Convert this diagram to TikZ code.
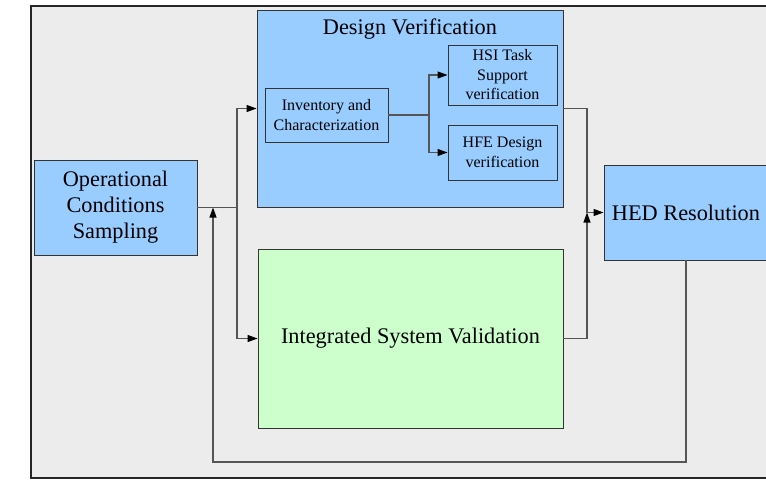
\documentclass[tikz,border=0pt]{standalone}
\usepackage{fontspec}
\setmainfont{Liberation Serif}
\usetikzlibrary{arrows.meta}
\definecolor{bgray}{HTML}{ECECEC}
\definecolor{bblue}{HTML}{99CCFF}
\definecolor{bgreen}{HTML}{CCFFCC}
\definecolor{lgray}{HTML}{555555}
\tikzset{
  box/.style={draw=black!80, line width=0.9pt, inner sep=0pt, align=center},
  bigtxt/.style={font=\fontsize{22.3}{26}\selectfont},
  smalltxt/.style={font=\fontsize{16}{19.5}\selectfont},
  conn/.style={draw=lgray, line width=1.1pt},
  arr/.style={conn, -{Triangle[length=10pt,width=7pt,fill=black,color=black]}},
}
\begin{document}
\begin{tikzpicture}[x=1pt,y=-1pt]
\useasboundingbox (0,0) rectangle (766,480);
\clip (0,0) rectangle (766,480);
\fill[white] (0,0) rectangle (766,480);
\draw[fill=bgray, draw=black!85, line width=1.8pt] (31,6) rectangle (790,478);

\node[box, fill=bblue, bigtxt, minimum width=163pt, minimum height=95pt] (ocs) at (115.5,207.5) {Operational\\Conditions\\Sampling};
\node[box, fill=bblue, minimum width=306pt, minimum height=197pt] (dv) at (410,108.5) {};
\node[bigtxt, inner sep=0pt] (dvt) at (410,29) {Design Verification};
\node[box, fill=bblue, smalltxt, minimum width=123pt, minimum height=54pt] (inv) at (326.5,115) {Inventory and\\Characterization};
\node[box, fill=bblue, smalltxt, minimum width=109pt, minimum height=60pt] (hsi) at (502.5,75) {HSI Task\\Support\\verification};
\node[box, fill=bblue, smalltxt, minimum width=109pt, minimum height=55pt] (hfe) at (502.5,152.5) {HFE Design\\verification};
\node[box, fill=bblue, bigtxt, minimum width=164pt, minimum height=95pt] (hed) at (686,212.5) {HED Resolution};
\node[box, fill=bgreen, bigtxt, minimum width=305pt, minimum height=179pt] (isv) at (410.5,338.5) {Integrated System Validation};

\coordinate (j1) at (237,207.5);
\coordinate (j2) at (429,115);
\coordinate (j3) at (587,212.5);
\coordinate (fb) at (213,207.5);
\coordinate (fbr) at (686,462);

\draw[conn] (ocs.east) -- (j1);
\draw[arr] (j1) |- (dv.west);
\draw[arr] (j1) |- (isv.west);
\draw[conn] (inv.east) -- (j2);
\draw[arr] (j2) |- (hsi.west);
\draw[arr] (j2) |- (hfe.west);
\draw[conn] (dv.east) -| (j3);
\draw[arr] (isv.east) -| (j3);
\draw[arr] (j3) -- (hed.west);
\draw[arr] (hed.south) -- (fbr) -| (fb);
\end{tikzpicture}
\end{document}
